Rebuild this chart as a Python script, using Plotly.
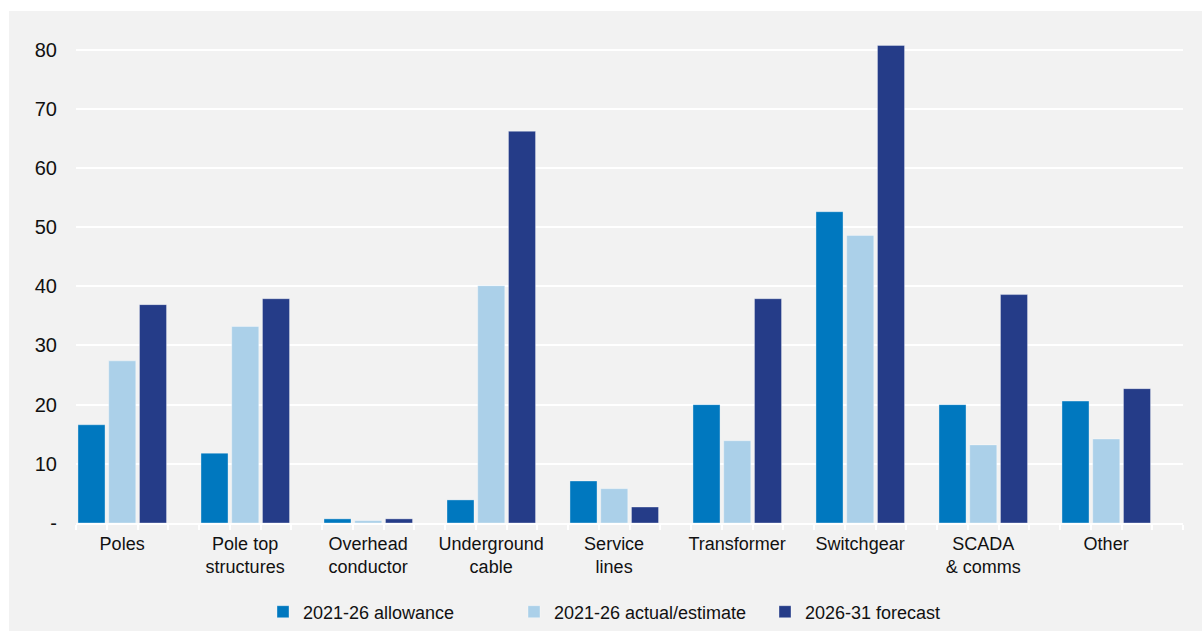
import plotly.graph_objects as go

categories = ["Poles", "Pole top<br>structures", "Overhead<br>conductor", "Underground<br>cable",
              "Service<br>lines", "Transformer", "Switchgear", "SCADA<br>& comms", "Other"]
allowance = [16.6, 11.8, 0.7, 3.9, 7.1, 20.0, 52.6, 20.0, 20.6]
actual = [27.4, 33.2, 0.4, 40.1, 5.8, 13.9, 48.6, 13.2, 14.2]
forecast = [36.9, 37.9, 0.7, 66.2, 2.7, 37.9, 80.7, 38.6, 22.7]
series_names = ["2021-26 allowance", "2021-26 actual/estimate", "2026-31 forecast"]
colors = ["#0078BF", "#ABD0E9", "#253C88"]
y_ticks = [0, 10, 20, 30, 40, 50, 60, 70, 80]
y_ticktext = ["-", "10", "20", "30", "40", "50", "60", "70", "80"]

W, H = 1202, 631
L, R, T, B = 76, 19, 20, 108
pw, ph = W - L - R, H - T - B

xpos = list(range(len(categories)))
label_pos = [i - 0.125 for i in xpos]

fig = go.Figure()
for k, (name, vals, c) in enumerate(zip(series_names, [allowance, actual, forecast], colors)):
    fig.add_trace(go.Bar(x=xpos, y=vals, name=name, width=0.22, offset=-0.5 + k * 0.25 + 0.016,
                         marker=dict(color=c, line=dict(color="rgba(255,255,255,0.35)", width=1))))

def px_x(p):
    return (p - L) / pw

def px_y(p):
    return (H - B - p) / ph

fig.add_shape(type="rect", xref="paper", yref="paper", x0=px_x(9), x1=px_x(1202), y0=px_y(11), y1=px_y(631),
              fillcolor="#F2F2F2", line=dict(width=0), layer="below")

fig.update_layout(
    width=W, height=H,
    margin=dict(l=L, r=R, t=T, b=B, autoexpand=False),
    paper_bgcolor="white", plot_bgcolor="#F2F2F2",
    barmode="overlay",
    font=dict(family="Liberation Sans, Arial, sans-serif", color="#111111", size=18),
    legend=dict(orientation="h", x=px_x(263), xanchor="left", y=px_y(612), yanchor="middle",
                font=dict(size=18), bgcolor="rgba(0,0,0,0)", itemwidth=30,
                entrywidth=206, entrywidthmode="pixels"),
    showlegend=True,
)
fig.update_xaxes(
    range=[-0.5, len(categories) - 0.5], tickmode="array", tickvals=label_pos, ticktext=categories,
    showgrid=False, zeroline=False, showline=True, linecolor="white", linewidth=2,
    ticks="", ticklabelstandoff=3,
    minor=dict(tickmode="linear", dtick=0.25, tick0=-0.5, ticks="outside", ticklen=5, tickcolor="white", tickwidth=2),
    tickfont=dict(size=18), automargin=False,
)
fig.update_yaxes(
    range=[0, 85], tickmode="array", tickvals=y_ticks, ticktext=y_ticktext,
    showgrid=True, gridcolor="white", gridwidth=2, zeroline=False, showline=False,
    ticks="", tickfont=dict(size=20), ticklabelstandoff=18, automargin=False,
)
fig.write_html("out.html")
